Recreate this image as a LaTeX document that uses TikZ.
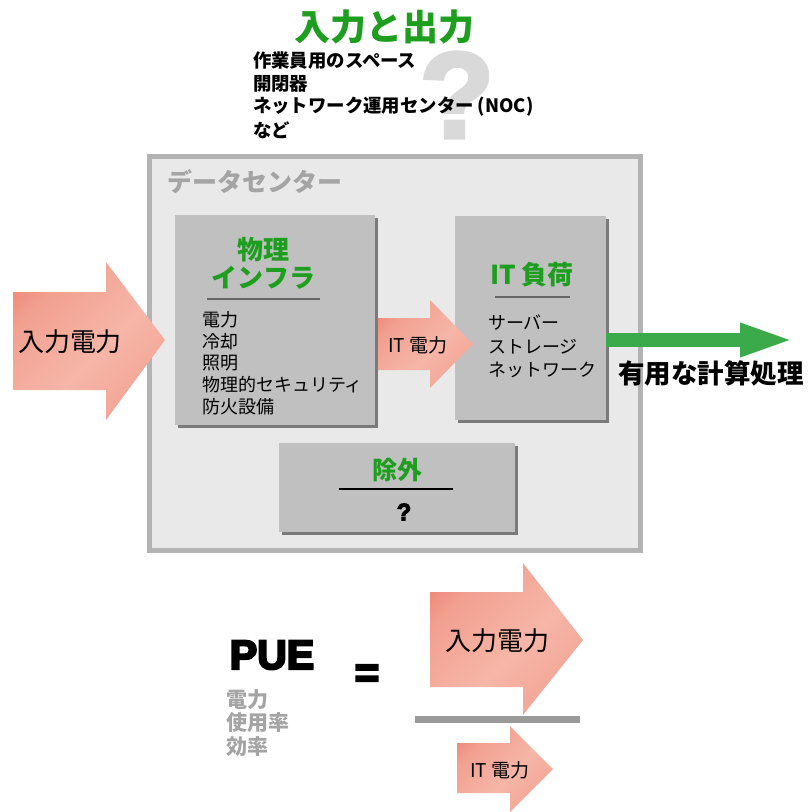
\documentclass[tikz,border=0pt]{standalone}
\usepackage{fontspec}
\setmainfont{Noto Sans CJK JP}
\newfontfamily\heavy[UprightFont={* Bold}]{Liberation Sans}
\usetikzlibrary{arrows.meta,shadows}
\definecolor{titlegreen}{HTML}{1E9E1E}
\definecolor{arrowgreen}{HTML}{3AAA4A}
\definecolor{outerfill}{HTML}{E9E9E9}
\definecolor{outerline}{HTML}{B3B3B3}
\definecolor{boxgray}{HTML}{C0C0C0}
\definecolor{shadowgray}{HTML}{7A7A7A}
\definecolor{labelgray}{HTML}{A4A4A4}
\definecolor{qgray}{HTML}{D9D9D9}
\definecolor{barGray}{HTML}{9A9A9A}
\definecolor{arA}{HTML}{E65A48}
\definecolor{arB}{HTML}{F2A090}
\definecolor{arC}{HTML}{F6B6A8}
\definecolor{arD}{HTML}{E87262}
\pgfdeclarehorizontalshading{arrowshade}{100bp}{color(0bp)=(arA); color(30bp)=(arB); color(55bp)=(arC); color(80bp)=(arB); color(100bp)=(arD)}
\newcommand{\fsz}[1]{\fontsize{#1}{#1}\selectfont}
\newcommand{\thick}[2]{\special{pdf:literal direct 2 Tr #1 w}#2\special{pdf:literal direct 0 Tr}}
\begin{document}
\begin{tikzpicture}[x=1pt,y=-1pt,
  every node/.style={inner sep=0pt, outer sep=0pt},
  graybox/.style={fill=boxgray, draw=none, anchor=north west,
    drop shadow={shadow xshift=3pt, shadow yshift=-3pt, fill=shadowgray, opacity=1}},
  blockarrow/.style={shading=arrowshade, shading angle=-45, draw=none},
  titletext/.style={text=titlegreen, font=\bfseries\fsz{26}},
  itemtext/.style={anchor=west, font=\fsz{18}},
  toptext/.style={anchor=west, font=\bfseries\fsz{18.4}},
  arrowlabel/.style={font=\fsz{26}},
  smalllabel/.style={font=\fsz{19}},
  ruleline/.style={line width=1.6pt}
]
\useasboundingbox (0,0) rectangle (807,812);

% big background question mark
\node[text=qgray, font=\heavy\fsz{122}] (bigq) at (457,95) {\thick{4}{?}};

% title and list
\node[text=titlegreen, font=\bfseries\fsz{36}] (title) at (384,27) {入力と出力};
\node[toptext] (t1) at (253,61) {作業員用のスペース};
\node[toptext] (t2) at (253,84) {開閉器};
\node[toptext] (t3) at (253,107) {ネットワーク運用センター (NOC)};
\node[toptext] (t4) at (253,130) {など};

% data center
\node[fill=outerfill, draw=outerline, line width=5pt, anchor=north west,
  minimum width=491pt, minimum height=394pt] (dc) at (149.5,156.5) {};
\node[anchor=west, text=labelgray, font=\bfseries\fsz{25}] (dclabel) at (167,182) {データセンター};

% physical infrastructure
\node[graybox, minimum width=200pt, minimum height=210pt] (phys) at (175,215) {};
\node[titletext] (physt1) at (263,250) {物理};
\node[titletext] (physt2) at (263.5,278) {インフラ};
\coordinate (pl1) at (207,299);
\coordinate (pl2) at (320,299);
\draw[ruleline, color=black!60] (pl1) -- (pl2);
\node[itemtext] (p1) at (202,320) {電力};
\node[itemtext] (p2) at (202,342) {冷却};
\node[itemtext] (p3) at (202,363) {照明};
\node[itemtext] (p4) at (202,385) {物理的セキュリティ};
\node[itemtext] (p5) at (202,407) {防火設備};

% IT load
\node[graybox, minimum width=151pt, minimum height=204pt] (it) at (455,216) {};
\node[titletext] (itt) at (532,275) {IT 負荷};
\coordinate (il1) at (495,297);
\coordinate (il2) at (570,297);
\draw[ruleline, color=black!60] (il1) -- (il2);
\node[itemtext] (i1) at (488,323) {サーバー};
\node[itemtext] (i2) at (488,347) {ストレージ};
\node[itemtext] (i3) at (488,370) {ネットワーク};

% exclusions
\node[graybox, minimum width=236pt, minimum height=89pt] (ex) at (279,443) {};
\node[text=titlegreen, font=\bfseries\fsz{25}] (ext) at (397,470) {除外};
\coordinate (el1) at (339,489);
\coordinate (el2) at (453,489);
\draw[line width=1.3pt] (el1) -- (el2);
\node[font=\heavy\fsz{24}] (exq) at (404,512) {\thick{1}{?}};

% input power arrow
\path[blockarrow] (13,292) -- (106,292) -- (106,262) -- (165,340) -- (106,420) -- (106,390) -- (13,390) -- cycle;
\node[arrowlabel] (inlabel) at (70,342) {入力電力};

% IT power arrow
\path[blockarrow] (378,318) -- (430,318) -- (430,300) -- (473,344) -- (430,388) -- (430,370) -- (378,370) -- cycle;
\node[smalllabel] (itplabel) at (418,345) {IT 電力};

% useful computing
\coordinate (gstart) at (606,340);
\coordinate (gtip) at (795,340);
\draw[line width=14pt, color=arrowgreen, -{Triangle[length=55pt,width=30pt]}] (gstart) -- (gtip);
\node[font=\bfseries\fsz{26.5}] (useful) at (711,373) {有用な計算処理};

% PUE formula
\node[font=\heavy\fsz{41}] (pue) at (272,655) {\thick{2.2}{PUE}};
\node[anchor=west, text=labelgray, font=\bfseries\fsz{21}] (pe1) at (226,700) {電力};
\node[anchor=west, text=labelgray, font=\bfseries\fsz{21}] (pe2) at (226,723) {使用率};
\node[anchor=west, text=labelgray, font=\bfseries\fsz{21}] (pe3) at (226,747) {効率};
\node[font=\heavy\fsz{42}] (eq) at (367,676) {\thick{2.2}{=}};

\path[blockarrow] (430,592) -- (523,592) -- (523,563) -- (583,640) -- (523,715) -- (523,687) -- (430,687) -- cycle;
\node[arrowlabel] (numlabel) at (497,641) {入力電力};

\coordinate (bar1) at (415,719.5);
\coordinate (bar2) at (580,719.5);
\draw[line width=7pt, color=barGray] (bar1) -- (bar2);

\path[blockarrow] (457,743) -- (510,743) -- (510,726) -- (553,769) -- (510,812) -- (510,793) -- (457,793) -- cycle;
\node[smalllabel] (denlabel) at (500,770) {IT 電力};
\end{tikzpicture}
\end{document}
